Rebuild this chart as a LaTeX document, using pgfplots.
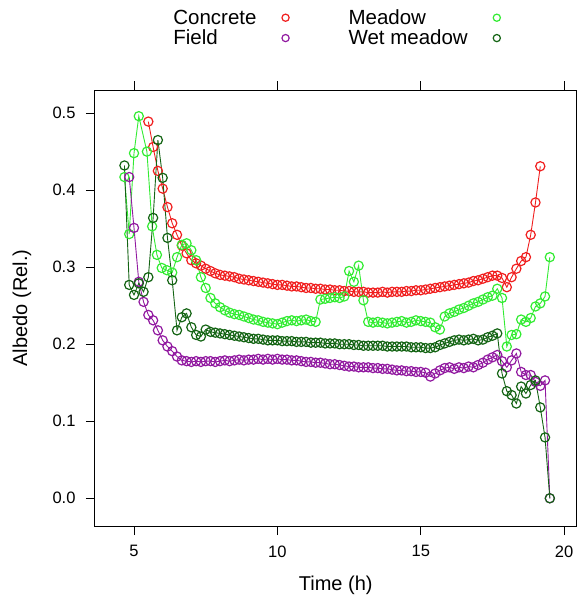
\documentclass[border=0pt]{standalone}
\usepackage{fontspec}
\setmainfont{Liberation Sans}
\usepackage{pgfplots}
\pgfplotsset{compat=1.18}
\definecolor{cRed}{RGB}{240,30,30}
\definecolor{cGreen}{RGB}{50,235,50}
\definecolor{cPurple}{RGB}{145,25,160}
\definecolor{cDark}{RGB}{20,100,20}
\begin{document}
\begin{tikzpicture}
\begin{axis}[name=ax, scale only axis, width=481.5pt, height=436pt,
 xmin=3.64, xmax=20.43, ymin=-0.036, ymax=0.53,
 xtick={5,10,15,20}, xticklabels={5,10,15,20},
 ytick={0,0.1,0.2,0.3,0.4,0.5}, yticklabels={0.0,0.1,0.2,0.3,0.4,0.5},
 tick align=outside, xtick pos=both, ytick pos=left, major tick length=9pt,
 tick style={black, line width=0.9pt},
 axis line style={line width=1pt},
 ticklabel style={font=\fontsize{16.5}{18}\selectfont},
 yticklabel style={xshift=-7pt},
 xticklabel style={yshift=-7pt},
 xlabel={Time (h)}, ylabel={Albedo (Rel.)},
 label style={font=\fontsize{20}{22}\selectfont},
 xlabel style={at={(axis description cs:0.5,-0.136)}, anchor=center},
 ylabel style={at={(axis description cs:-0.1515,0.5)}, anchor=center, rotate=0},
 legend columns=2, legend plot pos=right, legend cell align=left,
 legend style={draw=none, fill=none, at={(0.562,1.093)}, anchor=south,
   font=\fontsize{20.5}{20}\selectfont, row sep=2pt, column sep=0pt,
   nodes={inner sep=1pt}},
 legend image code/.code={\draw[#1, mark size=3.6pt] plot[only marks] coordinates {(0pt,0pt)}; \path[draw=none,fill=none] (-28pt,-3pt) rectangle (62pt,3pt);},
 every axis plot/.append style={line width=0.9pt, mark=o, mark size=4.6pt, mark options={line width=1.2pt, solid}},
]
\addplot[color=cRed] coordinates {(5.5,0.489)(5.667,0.456)(5.833,0.425)(6.0,0.402)(6.167,0.378)(6.333,0.357)(6.5,0.342)(6.667,0.328)(6.833,0.318)(7.0,0.309)(7.167,0.305)(7.333,0.302)(7.5,0.298)(7.667,0.295)(7.833,0.292)(8.0,0.290)(8.167,0.289)(8.333,0.288)(8.5,0.287)(8.667,0.285)(8.833,0.284)(9.0,0.283)(9.167,0.282)(9.333,0.281)(9.5,0.280)(9.667,0.279)(9.833,0.278)(10.0,0.277)(10.167,0.277)(10.333,0.276)(10.5,0.275)(10.667,0.275)(10.833,0.274)(11.0,0.273)(11.167,0.273)(11.333,0.272)(11.5,0.272)(11.667,0.271)(11.833,0.271)(12.0,0.270)(12.167,0.270)(12.333,0.269)(12.5,0.269)(12.667,0.268)(12.833,0.268)(13.0,0.268)(13.167,0.267)(13.333,0.267)(13.5,0.267)(13.667,0.268)(13.833,0.267)(14.0,0.268)(14.167,0.268)(14.333,0.268)(14.5,0.269)(14.667,0.269)(14.833,0.270)(15.0,0.270)(15.167,0.271)(15.333,0.272)(15.5,0.273)(15.667,0.274)(15.833,0.275)(16.0,0.276)(16.167,0.277)(16.333,0.278)(16.5,0.279)(16.667,0.280)(16.833,0.282)(17.0,0.283)(17.167,0.285)(17.333,0.287)(17.5,0.289)(17.667,0.289)(17.833,0.286)(18.0,0.274)(18.167,0.287)(18.333,0.298)(18.5,0.308)(18.667,0.313)(18.833,0.342)(19.0,0.384)(19.167,0.431)};
\addlegendentry{Concrete}
\addplot[color=cGreen] coordinates {(4.667,0.417)(4.833,0.343)(5.0,0.448)(5.167,0.496)(5.45,0.450)(5.633,0.353)(5.8,0.316)(5.967,0.299)(6.15,0.296)(6.333,0.293)(6.5,0.313)(6.667,0.329)(6.833,0.331)(7.0,0.322)(7.167,0.309)(7.333,0.287)(7.5,0.273)(7.667,0.260)(7.833,0.253)(8.0,0.248)(8.167,0.244)(8.333,0.241)(8.5,0.239)(8.667,0.238)(8.833,0.236)(9.0,0.234)(9.167,0.232)(9.333,0.231)(9.5,0.229)(9.667,0.228)(9.833,0.227)(10.0,0.226)(10.167,0.228)(10.333,0.230)(10.5,0.231)(10.667,0.230)(10.833,0.231)(11.0,0.232)(11.167,0.230)(11.333,0.229)(11.5,0.258)(11.667,0.259)(11.833,0.260)(12.0,0.261)(12.167,0.260)(12.333,0.262)(12.5,0.295)(12.667,0.281)(12.833,0.302)(13.0,0.257)(13.167,0.229)(13.333,0.228)(13.5,0.229)(13.667,0.228)(13.833,0.227)(14.0,0.228)(14.167,0.229)(14.333,0.230)(14.5,0.228)(14.667,0.229)(14.833,0.231)(15.0,0.230)(15.167,0.229)(15.333,0.228)(15.5,0.222)(15.667,0.219)(15.833,0.236)(16.0,0.240)(16.167,0.242)(16.333,0.245)(16.5,0.247)(16.667,0.250)(16.833,0.253)(17.0,0.255)(17.167,0.258)(17.333,0.261)(17.5,0.263)(17.667,0.272)(17.833,0.260)(18.0,0.197)(18.167,0.212)(18.333,0.213)(18.5,0.232)(18.667,0.229)(18.833,0.234)(19.0,0.249)(19.167,0.253)(19.333,0.262)(19.5,0.313)};
\addlegendentry{Meadow}
\addplot[color=cPurple] coordinates {(4.833,0.417)(5.0,0.351)(5.167,0.281)(5.333,0.255)(5.5,0.238)(5.667,0.231)(5.833,0.218)(6.0,0.205)(6.167,0.197)(6.333,0.191)(6.5,0.184)(6.667,0.179)(6.833,0.178)(7.0,0.177)(7.167,0.178)(7.333,0.177)(7.5,0.178)(7.667,0.178)(7.833,0.177)(8.0,0.178)(8.167,0.179)(8.333,0.178)(8.5,0.179)(8.667,0.180)(8.833,0.179)(9.0,0.180)(9.167,0.180)(9.333,0.181)(9.5,0.180)(9.667,0.181)(9.833,0.180)(10.0,0.181)(10.167,0.180)(10.333,0.180)(10.5,0.179)(10.667,0.179)(10.833,0.178)(11.0,0.177)(11.167,0.177)(11.333,0.176)(11.5,0.176)(11.667,0.175)(11.833,0.174)(12.0,0.174)(12.167,0.173)(12.333,0.172)(12.5,0.171)(12.667,0.171)(12.833,0.170)(13.0,0.170)(13.167,0.170)(13.333,0.169)(13.5,0.169)(13.667,0.168)(13.833,0.168)(14.0,0.167)(14.167,0.166)(14.333,0.166)(14.5,0.165)(14.667,0.165)(14.833,0.164)(15.0,0.164)(15.167,0.163)(15.333,0.158)(15.5,0.162)(15.667,0.166)(15.833,0.169)(16.0,0.170)(16.167,0.168)(16.333,0.170)(16.5,0.169)(16.667,0.171)(16.833,0.170)(17.0,0.173)(17.167,0.176)(17.333,0.180)(17.5,0.183)(17.667,0.186)(17.833,0.178)(18.0,0.170)(18.167,0.179)(18.333,0.188)(18.5,0.164)(18.667,0.160)(18.833,0.160)(19.0,0.151)(19.167,0.146)(19.333,0.153)(19.5,0.0)};
\addlegendentry{Field}
\addplot[color=cDark] coordinates {(4.667,0.432)(4.833,0.277)(5.0,0.264)(5.167,0.279)(5.333,0.268)(5.5,0.287)(5.667,0.364)(5.833,0.465)(6.0,0.416)(6.167,0.338)(6.333,0.283)(6.5,0.218)(6.667,0.235)(6.833,0.240)(7.0,0.222)(7.167,0.212)(7.333,0.210)(7.5,0.219)(7.667,0.216)(7.833,0.215)(8.0,0.214)(8.167,0.213)(8.333,0.212)(8.5,0.211)(8.667,0.210)(8.833,0.209)(9.0,0.208)(9.167,0.207)(9.333,0.207)(9.5,0.206)(9.667,0.205)(9.833,0.205)(10.0,0.205)(10.167,0.204)(10.333,0.204)(10.5,0.204)(10.667,0.203)(10.833,0.203)(11.0,0.203)(11.167,0.202)(11.333,0.202)(11.5,0.202)(11.667,0.201)(11.833,0.201)(12.0,0.201)(12.167,0.200)(12.333,0.200)(12.5,0.200)(12.667,0.199)(12.833,0.199)(13.0,0.198)(13.167,0.198)(13.333,0.198)(13.5,0.198)(13.667,0.198)(13.833,0.197)(14.0,0.197)(14.167,0.197)(14.333,0.197)(14.5,0.197)(14.667,0.196)(14.833,0.196)(15.0,0.196)(15.167,0.195)(15.333,0.195)(15.5,0.196)(15.667,0.199)(15.833,0.201)(16.0,0.203)(16.167,0.205)(16.333,0.206)(16.5,0.205)(16.667,0.206)(16.833,0.207)(17.0,0.205)(17.167,0.206)(17.333,0.209)(17.5,0.211)(17.667,0.214)(17.833,0.162)(18.0,0.139)(18.167,0.134)(18.333,0.123)(18.5,0.145)(18.667,0.136)(18.833,0.147)(19.0,0.153)(19.167,0.118)(19.333,0.079)(19.5,0.0)};
\addlegendentry{Wet meadow}
\end{axis}
\path (ax.south west) ++(-95pt,-74pt) rectangle ++(578pt,600pt);
\end{tikzpicture}
\end{document}
